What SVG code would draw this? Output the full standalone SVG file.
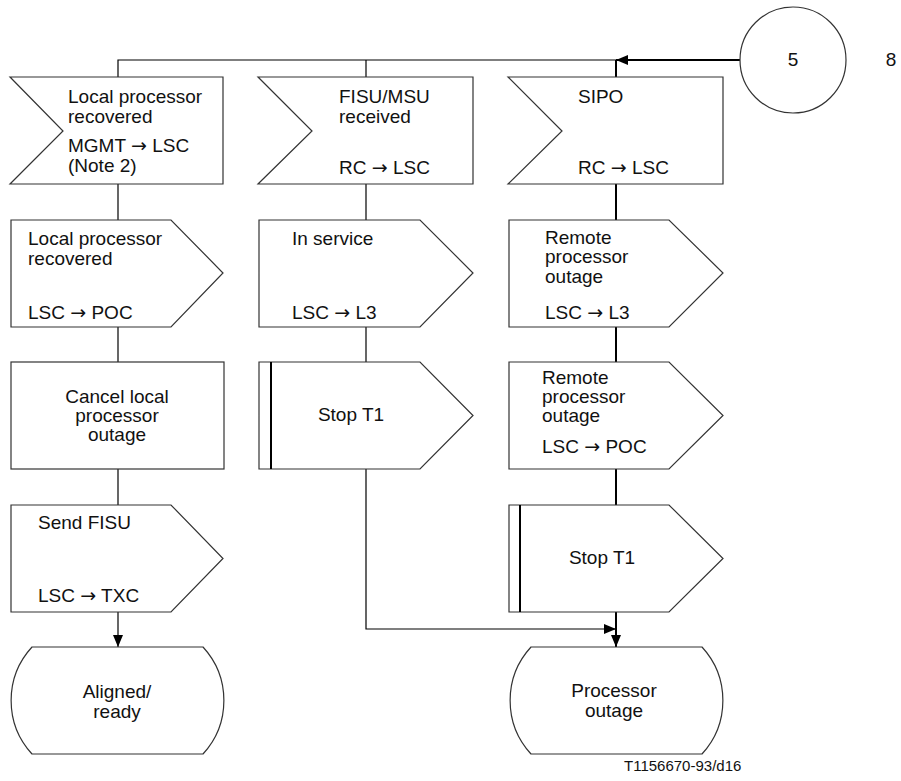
<svg xmlns="http://www.w3.org/2000/svg" width="901" height="781" viewBox="0 0 901 781">
<defs>
<marker id="ah" viewBox="0 0 12 10" refX="12" refY="5" markerWidth="12" markerHeight="10" markerUnits="userSpaceOnUse" orient="auto"><path d="M0,0 L12,5 L0,10 Z" fill="#000"/></marker>
</defs>
<style>
.s{fill:#fff;stroke:#333;stroke-width:1.2}
.t{font-family:"Liberation Sans",Arial,sans-serif;font-size:19px;fill:#111}
.a{font-family:"DejaVu Sans",sans-serif;font-size:19px}
.c{text-anchor:middle}
.ln{fill:none;stroke:#000;stroke-width:1.2}
.lt{fill:none;stroke:#000;stroke-width:2}
</style>
<rect width="901" height="781" fill="#fff"/>
<g id="connectors">
<path class="ln" d="M118,77 V60 H616"/>
<path class="ln" d="M366,60 V77"/>
<path class="lt" d="M616,60 V77"/>
<path class="lt" d="M740,60 H616" marker-end="url(#ah)"/>
<path class="ln" d="M118,184 V220"/>
<path class="ln" d="M366,184 V220"/>
<path class="lt" d="M616,184 V220"/>
<path class="ln" d="M118,327 V362"/>
<path class="ln" d="M366,327 V362"/>
<path class="lt" d="M616,327 V362"/>
<path class="ln" d="M118,469 V505"/>
<path class="lt" d="M616,469 V505"/>
<path class="ln" d="M118,612 V647" marker-end="url(#ah)"/>
<path class="ln" d="M366,469 V629 H616" marker-end="url(#ah)"/>
<path class="lt" d="M616,612 V647" marker-end="url(#ah)"/>
</g>
<g id="conn5">
<circle class="s" cx="793" cy="60" r="53"/>
<text class="t c" x="793" y="66">5</text>
<text class="t c" x="891" y="66">8</text>
</g>
<g id="in1">
<path class="s" d="M10,77 H223 V184 H10 L63,131 Z"/>
<text class="t" x="68" y="103">Local processor</text>
<text class="t" x="68" y="123">recovered</text>
<text class="t" x="68" y="152">MGMT <tspan class="a">→</tspan> LSC</text>
<text class="t" x="68" y="172">(Note 2)</text>
</g>
<g id="in2">
<path class="s" d="M258,77 H473 V184 H258 L312,131 Z"/>
<text class="t" x="339" y="103">FISU/MSU</text>
<text class="t" x="339" y="123">received</text>
<text class="t" x="339" y="174">RC <tspan class="a">→</tspan> LSC</text>
</g>
<g id="in3">
<path class="s" d="M508,77 H723 V184 H508 L562,131 Z"/>
<text class="t" x="578" y="103">SIPO</text>
<text class="t" x="578" y="174">RC <tspan class="a">→</tspan> LSC</text>
</g>
<g id="out1">
<path class="s" d="M11,220 H171 L223,273 L171,327 H11 Z"/>
<text class="t" x="28" y="245">Local processor</text>
<text class="t" x="28" y="265">recovered</text>
<text class="t" x="28" y="319">LSC <tspan class="a">→</tspan> POC</text>
</g>
<g id="out2">
<path class="s" d="M259,220 H420 L473,273 L420,327 H259 Z"/>
<text class="t" x="292" y="245">In service</text>
<text class="t" x="292" y="319">LSC <tspan class="a">→</tspan> L3</text>
</g>
<g id="out3">
<path class="s" d="M509,220 H669 L723,273 L669,327 H509 Z"/>
<text class="t" x="545" y="244">Remote</text>
<text class="t" x="545" y="263">processor</text>
<text class="t" x="545" y="283">outage</text>
<text class="t" x="545" y="319">LSC <tspan class="a">→</tspan> L3</text>
</g>
<g id="task1">
<rect class="s" x="11" y="362" width="213" height="107"/>
<text class="t c" x="117" y="403">Cancel local</text>
<text class="t c" x="117" y="422">processor</text>
<text class="t c" x="117" y="441">outage</text>
</g>
<g id="stop2">
<path class="s" d="M259,362 H420 L473,415.5 L420,469 H259 Z"/>
<path class="lt" d="M271,362 V469"/>
<text class="t c" x="351" y="421">Stop T1</text>
</g>
<g id="out4">
<path class="s" d="M509,362 H669 L723,415.5 L669,469 H509 Z"/>
<text class="t" x="542" y="384">Remote</text>
<text class="t" x="542" y="403">processor</text>
<text class="t" x="542" y="422">outage</text>
<text class="t" x="542" y="453">LSC <tspan class="a">→</tspan> POC</text>
</g>
<g id="out5">
<path class="s" d="M11,505 H171 L223,558.5 L171,612 H11 Z"/>
<text class="t" x="38" y="529">Send FISU</text>
<text class="t" x="38" y="602">LSC <tspan class="a">→</tspan> TXC</text>
</g>
<g id="stop3">
<path class="s" d="M509,505 H669 L723,558.5 L669,612 H509 Z"/>
<path class="lt" d="M520,505 V612"/>
<text class="t c" x="602" y="564">Stop T1</text>
</g>
<g id="state1">
<path class="s" d="M32,647 H203 A79,79 0 0 1 203,754 H32 A79,79 0 0 1 32,647 Z"/>
<text class="t c" x="117" y="698">Aligned/</text>
<text class="t c" x="117" y="718">ready</text>
</g>
<g id="state2">
<path class="s" d="M531,647 H702 A79,79 0 0 1 702,754 H531 A79,79 0 0 1 531,647 Z"/>
<text class="t c" x="614" y="697">Processor</text>
<text class="t c" x="614" y="717">outage</text>
</g>
<text class="t" x="624" y="771" style="font-size:15px">T1156670-93/d16</text>
</svg>
